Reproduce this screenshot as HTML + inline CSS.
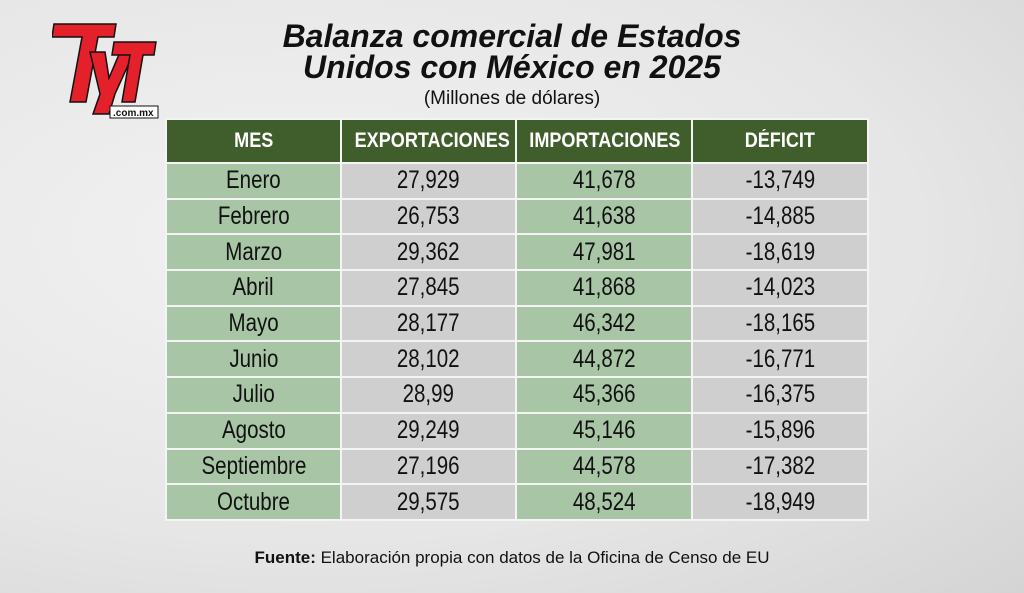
<!DOCTYPE html>
<html><head><meta charset="utf-8"><style>
body{margin:0;width:1024px;height:593px;overflow:hidden;background:radial-gradient(ellipse at 30% 40%,#f2f2f2 0%,#e6e6e6 60%,#d4d4d4 100%);font-family:"Liberation Sans",sans-serif;position:relative}
.t{position:absolute;left:0;width:1024px;text-align:center;font-weight:bold;font-style:italic;color:#111}
table{position:absolute;left:165px;top:118px;border-collapse:collapse;table-layout:fixed;width:704px}
td{height:33.7px;text-align:center;font-size:25px;color:#111;border:2px solid #f4f4f4;padding:0;white-space:nowrap;overflow:visible}
td span{display:inline-block;transform:scaleX(0.82)}
td:nth-child(odd){background:#a8c5a6}
td:nth-child(even){background:#cfcfcf}
tr.h td{background:#3f5e2b;color:#fff;font-weight:bold;font-size:21px;height:42px}
tr.h td span{transform:scaleX(0.86)}
.logo{position:absolute;left:52px;top:22px;width:108px;height:100px}
</style></head><body>
<svg class="logo" viewBox="0 0 108 100">
<polygon points="2,2 64,2 62,15 46,15 34,80 18,80 30,15 0,15" fill="#e4202b" stroke="#111" stroke-width="1.5"/>
<polygon points="38,30 53,30 57,56 68,30 82,30 63,72 57,92 41,92 48,72" fill="#e4202b" stroke="#111" stroke-width="1.5"/>
<polygon points="62,20 104,20 102,33 91,33 83,80 70,80 78,33 60,33" fill="#e4202b" stroke="#111" stroke-width="1.5"/>
<rect x="58" y="84" width="48" height="12" fill="#fff" stroke="#111" stroke-width="1"/>
<text x="61" y="94" font-size="10" font-weight="bold" font-family="Liberation Sans" fill="#111">.com.mx</text>
</svg>
<div class="t" style="top:20px;font-size:32px;line-height:32px">Balanza comercial de Estados</div>
<div class="t" style="top:51px;font-size:32px;line-height:32px">Unidos con México en 2025</div>
<div class="t" style="top:88px;font-size:19px;font-weight:normal;font-style:normal">(Millones de dólares)</div>
<table>
<colgroup><col style="width:175px"><col style="width:175px"><col style="width:176px"><col style="width:176px"></colgroup>
<tr class="h"><td><span>MES</span></td><td><span>EXPORTACIONES</span></td><td><span>IMPORTACIONES</span></td><td><span>DÉFICIT</span></td></tr>
<tr><td><span>Enero</span></td><td><span>27,929</span></td><td><span>41,678</span></td><td><span>-13,749</span></td></tr>
<tr><td><span>Febrero</span></td><td><span>26,753</span></td><td><span>41,638</span></td><td><span>-14,885</span></td></tr>
<tr><td><span>Marzo</span></td><td><span>29,362</span></td><td><span>47,981</span></td><td><span>-18,619</span></td></tr>
<tr><td><span>Abril</span></td><td><span>27,845</span></td><td><span>41,868</span></td><td><span>-14,023</span></td></tr>
<tr><td><span>Mayo</span></td><td><span>28,177</span></td><td><span>46,342</span></td><td><span>-18,165</span></td></tr>
<tr><td><span>Junio</span></td><td><span>28,102</span></td><td><span>44,872</span></td><td><span>-16,771</span></td></tr>
<tr><td><span>Julio</span></td><td><span>28,99</span></td><td><span>45,366</span></td><td><span>-16,375</span></td></tr>
<tr><td><span>Agosto</span></td><td><span>29,249</span></td><td><span>45,146</span></td><td><span>-15,896</span></td></tr>
<tr><td><span>Septiembre</span></td><td><span>27,196</span></td><td><span>44,578</span></td><td><span>-17,382</span></td></tr>
<tr><td><span>Octubre</span></td><td><span>29,575</span></td><td><span>48,524</span></td><td><span>-18,949</span></td></tr>
</table>
<div style="position:absolute;top:548px;left:0;width:1024px;text-align:center;font-size:17px;color:#111"><b>Fuente:</b> Elaboración propia con datos de la Oficina de Censo de EU</div>
</body></html>
